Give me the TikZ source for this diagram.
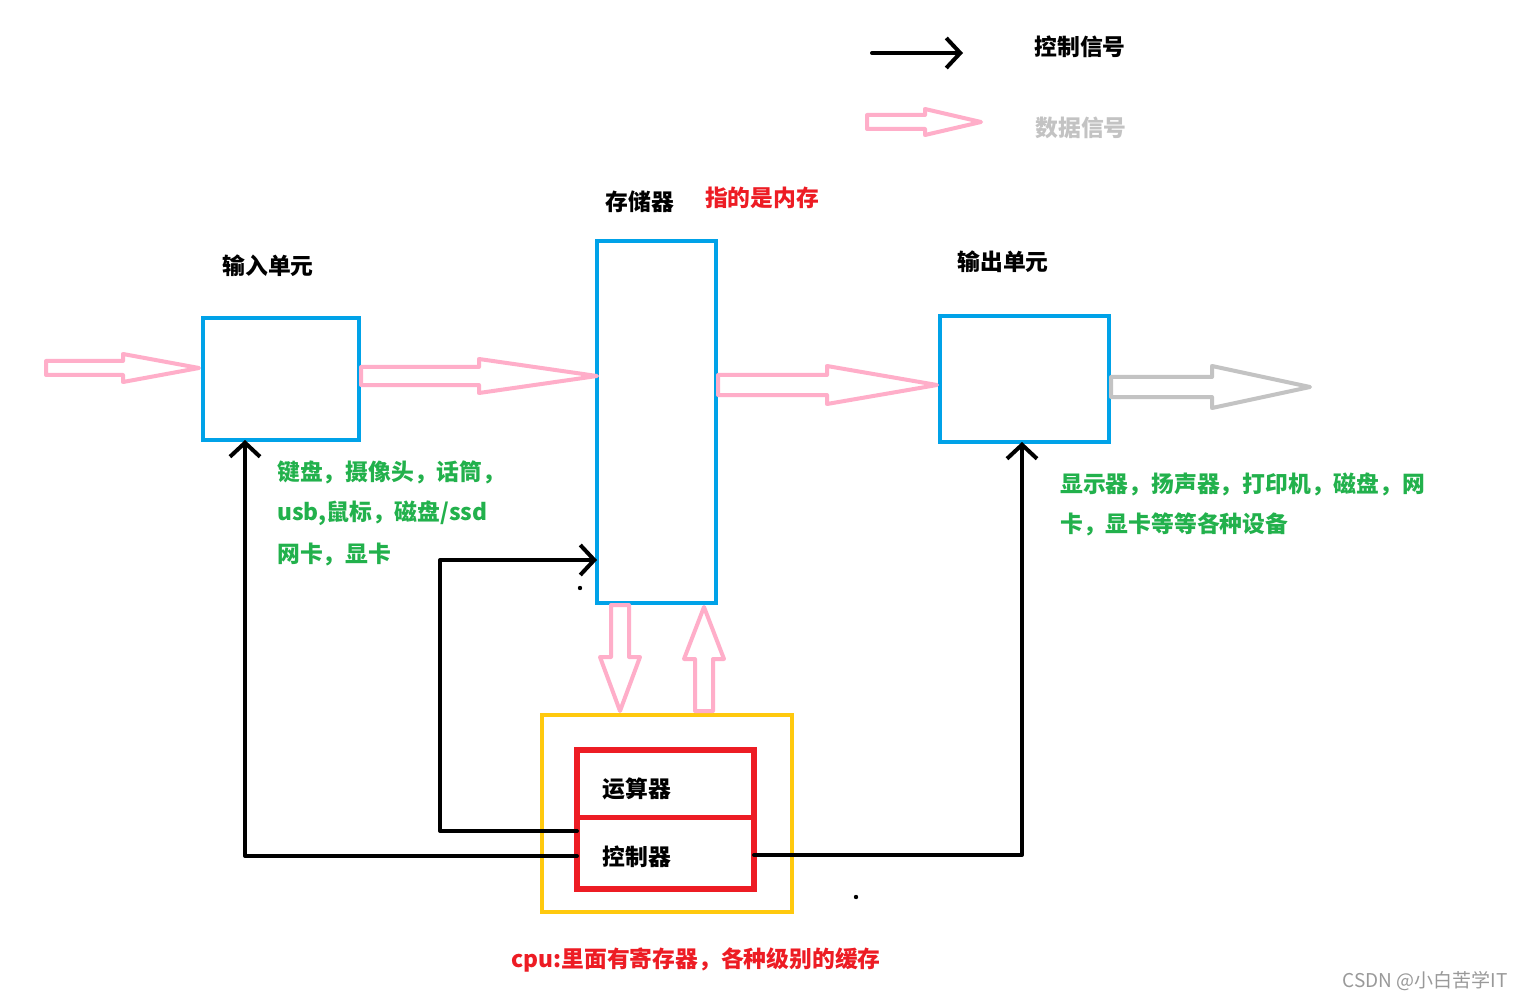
\documentclass[tikz,border=0pt]{standalone}
\usepackage{fontspec}
\newfontfamily\cjk{Noto Sans CJK SC}
\usetikzlibrary{arrows.meta}
\definecolor{cblue}{HTML}{00A2E8}
\definecolor{cpink}{HTML}{FFAEC9}
\definecolor{cgrey}{HTML}{C3C3C3}
\definecolor{cyel}{HTML}{FFC90E}
\definecolor{cred}{HTML}{ED1C24}
\definecolor{cgreen}{HTML}{22B14C}
\newcommand\hollowR[7]{\draw[#1] ({#2},{#5-#6}) -- ({#4},{#5-#6}) -- ({#4},{#5-#7}) -- ({#3},{#5}) -- ({#4},{#5+#7}) -- ({#4},{#5+#6}) -- ({#2},{#5+#6}) -- cycle;}
\newcommand\hollowV[7]{\draw[#1] ({#2-#6},{#3}) -- ({#2-#6},{#5}) -- ({#2-#7},{#5}) -- ({#2},{#4}) -- ({#2+#7},{#5}) -- ({#2+#6},{#5}) -- ({#2+#6},{#3}) -- cycle;}
\begin{document}
\begin{tikzpicture}[x=1pt,y=-1pt,
  box/.style={draw=cblue,line width=4pt,outer sep=0pt,inner sep=0pt,rectangle},
  lbl/.style={font=\cjk\bfseries\fontsize{22.8}{26}\selectfont,inner sep=0pt},
  green/.style={lbl,text=cgreen,anchor=west},
  ctrl/.style={black,line width=4pt,line cap=round,line join=round,-{Straight Barb[length=14pt,width=30pt]}},
  fat/.style={line width=4pt,line join=round},
]
\useasboundingbox[fill=white] (0,0) rectangle (1524,1000);

% legend
\coordinate (la) at (872,53);
\coordinate (lb) at (963,53);
\draw[ctrl] (la) -- (lb);
\node[lbl] (lt1) at (1080,47) {控制信号};
\hollowR{fat,cpink}{867}{981}{925}{122}{7}{13}
\node[lbl,text=cgrey] (lt2) at (1081,128) {数据信号};

% boxes
\node[box,minimum width=156pt,minimum height=122pt] (inbox) at (281,379) {};
\node[box,minimum width=119pt,minimum height=362pt] (mem) at (656.5,422) {};
\node[box,minimum width=169pt,minimum height=126pt] (outbox) at (1024.5,379) {};
\node[draw=cyel,line width=4pt,outer sep=0pt,minimum width=250pt,minimum height=197pt] (cpu) at (667,813.5) {};
\node[draw=cred,line width=6pt,outer sep=0pt,minimum width=177pt,minimum height=139pt] (reg) at (665.5,819.5) {};
\draw[cred,line width=5pt] (reg.west |- 0,817) -- (reg.east |- 0,817);

% labels
\node[lbl] (tin) at (268,266) {输入单元};
\node[lbl] (tmem) at (640,202) {存储器};
\node[lbl,text=cred] (tmem2) at (762,198) {指的是内存};
\node[lbl] (tout) at (1003,262) {输出单元};
\node[lbl] (alu) at (637,789) {运算器};
\node[lbl] (ctl) at (637,857) {控制器};

\node[green] (g1) at (277,472) {键盘，摄像头，话筒，};
\node[green] (g2) at (277,513) {usb,鼠标，磁盘/ssd};
\node[green] (g3) at (277,555) {网卡，显卡};
\node[green] (g4) at (1060,484) {显示器，扬声器，打印机，磁盘，网};
\node[green] (g5) at (1060,524) {卡，显卡等等各种设备};

\node[lbl,text=cred] (cpunote) at (696,960) {cpu:里面有寄存器，各种级别的缓存};
\node[font=\cjk\fontsize{19}{22}\selectfont,text=gray!80,inner sep=0pt] (wm) at (1425,981) {CSDN @小白苦学IT};

% data arrows
\hollowR{fat,cpink}{46}{199}{123}{368}{7}{14}
\hollowR{fat,cpink}{361}{597}{479}{376}{9}{17}
\hollowR{fat,cpink}{718}{937}{827}{385}{10}{19}
\hollowR{fat,cgrey}{1111}{1310}{1212}{387}{10}{21}
\hollowV{fat,cpink}{620}{605}{711}{657}{9}{20}
\hollowV{fat,cpink}{704}{711}{607}{659}{9}{20}

% control arrows
\draw[ctrl] (reg.west |- 0,831) -- (440,831) -- (440,560) -- (mem.west |- 0,560);
\draw[ctrl] (reg.west |- 0,856) -- (245,856) -- (inbox.south -| 245,0);
\draw[ctrl] (reg.east |- 0,855) -- (1022,855) -- (outbox.south -| 1022,0);

% stray dots
\fill (580,588) circle (2.2pt);
\fill (856,897) circle (2.2pt);
\end{tikzpicture}
\end{document}
